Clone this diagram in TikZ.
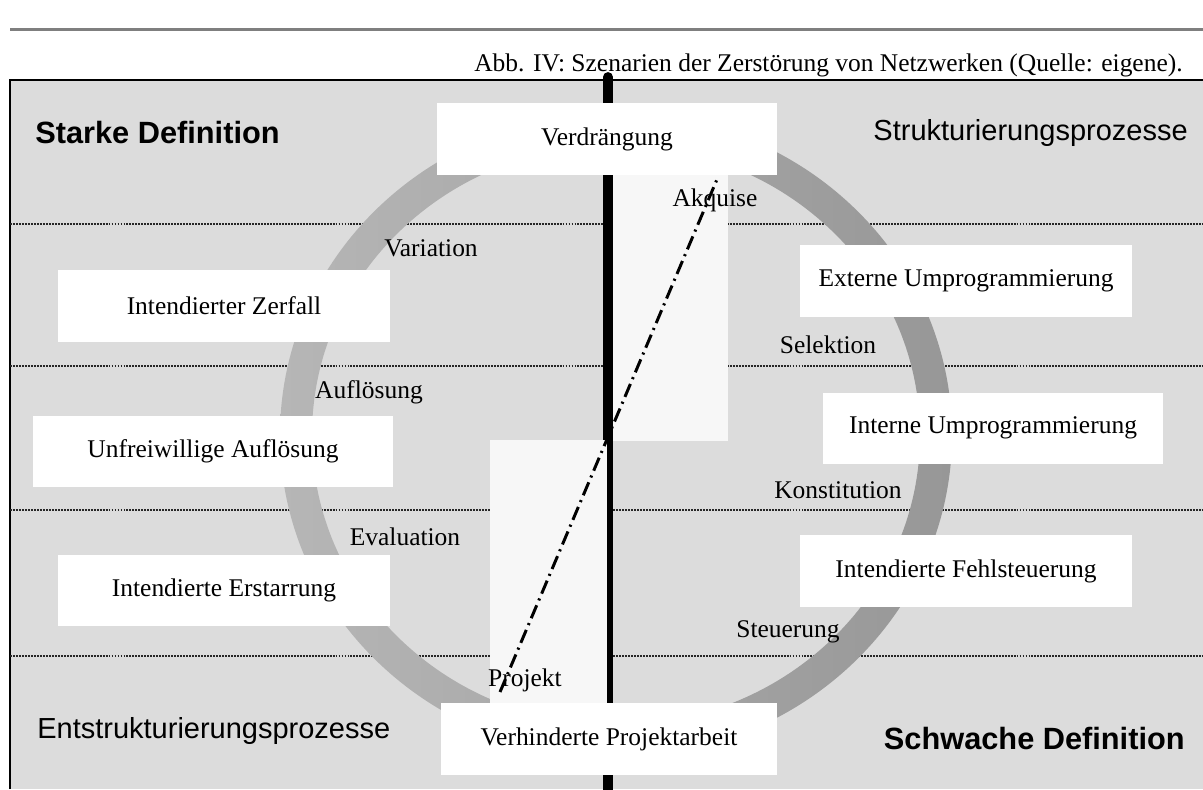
\documentclass[tikz,border=0pt]{standalone}
\usepackage{fontspec}
\setmainfont{Liberation Serif}
\setsansfont{Liberation Sans}
\usepackage{tikz}
\usetikzlibrary{positioning,calc}
\definecolor{panelgray}{HTML}{DCDCDC}
\definecolor{pale}{HTML}{F7F7F7}
\definecolor{ringlight}{HTML}{B6B6B6}
\definecolor{ringdark}{HTML}{979797}
\definecolor{rulegray}{HTML}{7F7F7F}
\tikzstyle{box}=[fill=white, inner sep=0pt, font=\fontsize{14.5}{16}\selectfont]
\tikzstyle{lbl}=[inner sep=0pt, font=\fontsize{14.5}{16}\selectfont]
\tikzstyle{strong}=[inner sep=0pt, font=\sffamily\bfseries\fontsize{17.5}{20}\selectfont]
\tikzstyle{weak}=[inner sep=0pt, font=\sffamily\fontsize{16.5}{19}\selectfont]
\tikzstyle{sep}=[line width=1.1pt, dash pattern=on 1.1pt off 0.6pt, black!85]
\tikzstyle{axis}=[line width=5.6pt, line cap=round]
\tikzstyle{diag}=[line width=1.7pt, dash pattern=on 8pt off 3pt on 1.2pt off 3pt]

\begin{document}
\begin{tikzpicture}[x=0.02cm,y=-0.02cm]
\useasboundingbox (0,0) rectangle (1203,789);
% frame and caption
\draw[rulegray, line width=1.7pt] (10,29) -- (1203,29);
\fill[panelgray] (10,80) rectangle (1203,789);
\draw[line width=1.2pt] (10,789) -- (10,80) -- (1203,80);
\node (cap) [lbl, anchor=base east] at (1183,71) {Abb. IV: Szenarien der Zerstörung von Netzwerken (Quelle: eigene).};
% dotted separators
\foreach \y in {224,366,510,656}
	\draw[sep] (10,\y) -- (1203,\y);
% pale fields
\fill[pale] (613,175) rectangle (728,441);
% ring
\shade[even odd rule, left color=ringlight, right color=ringdark]
	(616,435) ellipse [x radius=336, y radius=322]
	(616,435) ellipse [x radius=304, y radius=290];
% axis and diagonal
\coordinate (top) at (608,77);
\coordinate (bot) at (608,795);
\draw[axis] (top) -- (bot);
\fill[pale] (490,440) rectangle (607,703);
\coordinate (pa) at (500,692);
\coordinate (pb) at (718,177);
\draw[diag] (pa) -- (pb);
% boxes
\node (verd) [box, minimum width=6.8cm, minimum height=1.44cm] at (607,139) {Verdrängung};
\node (zerf) [box, minimum width=6.64cm, minimum height=1.44cm] at (224,306) {Intendierter Zerfall};
\node (ext) [box, minimum width=6.66cm, minimum height=1.44cm] at (966,281) {Externe Umprogrammierung};
\node (unfr) [box, minimum width=7.22cm, minimum height=1.42cm] at (213,451) {Unfreiwillige Auflösung};
\node (int) [box, minimum width=6.8cm, minimum height=1.42cm] at (993,428) {Interne Umprogrammierung};
\node (erst) [box, minimum width=6.64cm, minimum height=1.42cm] at (224,590) {Intendierte Erstarrung};
\node (fehl) [box, minimum width=6.66cm, minimum height=1.44cm] at (966,571) {Intendierte Fehlsteuerung};
\node (verh) [box, minimum width=6.72cm, minimum height=1.44cm] at (609,739) {Verhinderte Projektarbeit};
% process labels
\node (akq) [lbl] at (715,200) {Akquise};
\node (var) [lbl] at (431,248) {Variation};
\node (sel) [lbl] at (828,345) {Selektion};
\node (aufl) [lbl] at (369,392) {Auflösung};
\node (kon) [lbl] at (838,490) {Konstitution};
\node (eva) [lbl] at (405,537) {Evaluation};
\node (steu) [lbl] at (788,632) {Steuerung};
\node (proj) [lbl] at (525,680) {Projekt};
% corner headings
\node (sd) [strong, anchor=west] at (35,133) {Starke Definition};
\node (sp) [weak, anchor=east] at (1188,133) {Strukturierungsprozesse};
\node (ep) [weak, anchor=west] at (37,731) {Entstrukturierungsprozesse};
\node (wd) [strong, anchor=east] at (1185,738) {Schwache Definition};
\end{tikzpicture}
\end{document}
